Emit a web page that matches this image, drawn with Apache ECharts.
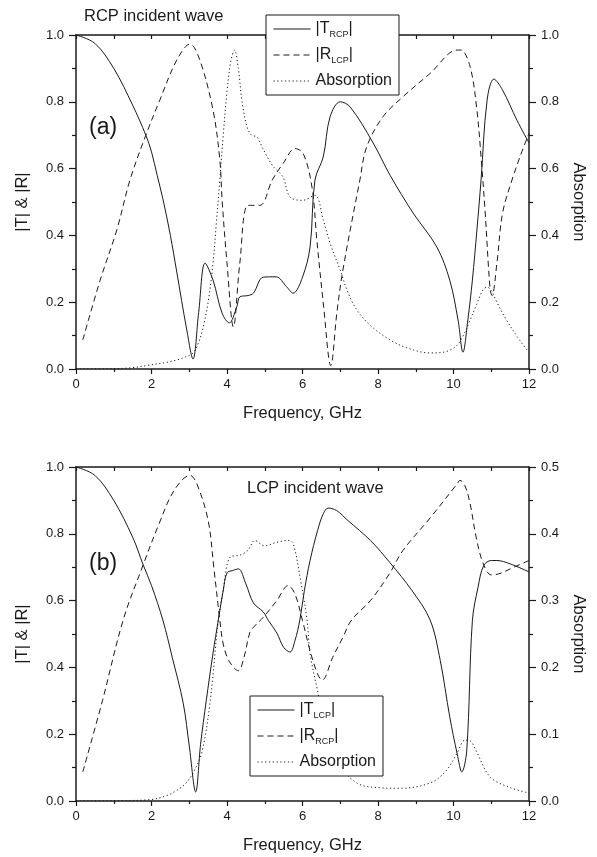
<!DOCTYPE html>
<html>
<head>
<meta charset="utf-8">
<script src="https://cdn.jsdelivr.net/npm/echarts@6/dist/echarts.min.js"></script>
<style>
html,body{margin:0;padding:0;background:#fff;}
#chart{width:597px;height:857px;}
</style>
</head>
<body>
<div id="chart"></div>
<script>
// ---------- DATA ----------
// Panel (a): RCP incident wave
var tRcpX = [0,0.5,1.0,1.5,1.85,2.0,2.15,2.3,2.5,2.67,2.93,3.1,3.25,3.42,3.63,3.87,4.06,4.26,4.34,4.56,4.7,4.96,5.3,5.58,5.75,6.0,6.2,6.33,6.55,6.73,7.0,7.26,7.87,8.32,8.93,9.56,9.9,10.12,10.25,10.38,10.5,10.62,10.73,10.89,11.07,11.3,11.68,12];
var tRcpY = [1.0,0.975,0.90,0.79,0.70,0.65,0.58,0.51,0.40,0.29,0.12,0.03,0.17,0.317,0.266,0.167,0.138,0.186,0.216,0.22,0.227,0.275,0.276,0.246,0.227,0.275,0.365,0.566,0.635,0.755,0.80,0.785,0.677,0.58,0.467,0.365,0.266,0.147,0.05,0.147,0.266,0.416,0.566,0.805,0.868,0.835,0.745,0.677];

var rLcpX = [0.18,0.64,1.08,1.43,1.85,2.22,2.67,3.02,3.28,3.63,3.81,3.87,4.0,4.17,4.34,4.56,4.87,5.2,5.49,5.8,6.02,6.25,6.38,6.55,6.75,6.91,7.07,7.52,7.7,8.13,8.66,9.38,10.1,10.2,10.44,10.62,10.75,10.84,10.97,11.02,11.15,11.3,11.55,11.76,12];
var rLcpY = [0.087,0.266,0.416,0.566,0.70,0.805,0.925,0.973,0.925,0.775,0.626,0.506,0.317,0.126,0.317,0.49,0.49,0.566,0.616,0.66,0.645,0.545,0.386,0.198,0.01,0.168,0.296,0.566,0.665,0.755,0.815,0.885,0.955,0.955,0.905,0.775,0.605,0.467,0.237,0.22,0.317,0.467,0.566,0.635,0.706];

var absAX = [0,1.0,1.5,1.96,2.4,2.67,2.9,3.1,3.25,3.37,3.5,3.63,3.72,3.81,3.9,4.0,4.1,4.2,4.3,4.4,4.53,4.65,4.79,4.95,5.2,5.48,5.67,6.0,6.33,6.55,6.75,7.0,7.2,7.44,7.8,8.32,8.8,9.38,9.8,10.1,10.3,10.44,10.6,10.78,10.89,11.0,11.15,11.4,11.7,11.95,12];
var absAY = [0,0.001,0.004,0.012,0.02,0.027,0.036,0.048,0.08,0.126,0.2,0.317,0.44,0.566,0.70,0.83,0.92,0.955,0.90,0.80,0.725,0.70,0.695,0.66,0.61,0.575,0.515,0.505,0.52,0.446,0.37,0.296,0.23,0.177,0.13,0.087,0.062,0.048,0.052,0.072,0.11,0.147,0.19,0.237,0.245,0.235,0.20,0.147,0.095,0.057,0.055];

// Panel (b): LCP incident wave
var tLcpX = [0,0.5,1.0,1.5,1.78,2.0,2.3,2.55,2.84,3.0,3.17,3.3,3.45,3.63,3.77,3.9,4.0,4.15,4.3,4.5,4.7,4.96,5.1,5.32,5.5,5.67,5.8,5.93,6.05,6.2,6.4,6.55,6.68,6.9,7.2,7.8,8.32,8.9,9.38,9.65,9.9,10.1,10.22,10.35,10.5,10.65,10.8,11.0,11.15,11.5,12];
var tLcpY = [1.0,0.975,0.90,0.79,0.707,0.645,0.542,0.43,0.293,0.165,0.027,0.17,0.30,0.443,0.542,0.63,0.683,0.69,0.695,0.65,0.593,0.566,0.54,0.503,0.46,0.446,0.48,0.542,0.63,0.72,0.81,0.86,0.877,0.87,0.84,0.78,0.713,0.63,0.542,0.42,0.252,0.14,0.087,0.15,0.54,0.64,0.705,0.72,0.72,0.71,0.686];

var rRcpX = [0.18,0.7,1.25,1.78,2.2,2.6,3.02,3.2,3.5,3.65,3.81,3.9,4.05,4.3,4.45,4.6,4.7,4.96,5.32,5.62,5.8,6.0,6.2,6.4,6.52,6.8,7.07,7.3,7.8,8.3,8.66,9.4,10.1,10.17,10.3,10.44,10.6,10.78,11.0,11.2,11.6,12];
var rRcpY = [0.087,0.30,0.542,0.707,0.83,0.93,0.975,0.95,0.84,0.70,0.542,0.47,0.42,0.39,0.43,0.503,0.52,0.55,0.60,0.645,0.62,0.54,0.45,0.38,0.362,0.43,0.49,0.542,0.60,0.68,0.75,0.85,0.95,0.96,0.945,0.89,0.79,0.713,0.677,0.68,0.70,0.72];

var absBX = [0,1.0,1.96,2.4,2.67,2.9,3.1,3.33,3.55,3.77,3.9,4.08,4.34,4.55,4.74,5.0,5.3,5.62,5.75,5.95,6.12,6.2,6.41,6.6,6.9,7.44,8.0,8.58,9.38,9.8,10.1,10.3,10.44,10.6,10.97,11.5,12];
var absBY = [0,0.0005,0.002,0.008,0.016,0.026,0.042,0.072,0.147,0.271,0.316,0.365,0.368,0.375,0.39,0.382,0.387,0.39,0.386,0.33,0.271,0.221,0.162,0.11,0.06,0.027,0.02,0.019,0.027,0.045,0.072,0.091,0.09,0.075,0.036,0.02,0.012];

var xTicks = {min:0, max:12, interval:2};
var leftTicks = {min:0, max:1, interval:0.2};
var rightTicksA = {min:0, max:1, interval:0.2};
var rightTicksB = {min:0, max:0.5, interval:0.1};

// ---------- CHART ----------
function zip(xs, ys){ return xs.map(function(x,i){ return [x, ys[i]]; }); }
var FONT = "'Liberation Sans', Arial, Helvetica, sans-serif";
var INK = '#1a1a1a';

var chart = echarts.init(document.getElementById('chart'), null, {renderer:'canvas'});

function xAxisBottom(gi){
  return {
    type:'value', gridIndex:gi, position:'bottom', min:xTicks.min, max:xTicks.max, interval:xTicks.interval,
    name:'Frequency, GHz', nameLocation:'middle', nameGap:36,
    nameTextStyle:{fontFamily:FONT, fontSize:16.5, color:INK},
    axisLine:{show:true, onZero:false, lineStyle:{color:INK, width:1.5}},
    axisTick:{show:true, inside:false, length:5, lineStyle:{color:INK, width:1.2}},
    minorTick:{show:true, splitNumber:2, length:3, lineStyle:{color:INK, width:1.2}},
    axisLabel:{fontFamily:FONT, fontSize:13, color:INK, margin:9},
    splitLine:{show:false}
  };
}
function xAxisTop(gi){
  return {
    type:'value', gridIndex:gi, position:'top', min:xTicks.min, max:xTicks.max, interval:xTicks.interval,
    axisLine:{show:true, onZero:false, lineStyle:{color:INK, width:1.5}},
    axisTick:{show:true, inside:true, length:4, lineStyle:{color:INK, width:1.2}},
    minorTick:{show:true, splitNumber:2, length:4, lineStyle:{color:INK, width:1.2}},
    axisLabel:{show:false}, splitLine:{show:false}
  };
}
function yAxis(gi, pos, t, name, gap, rot, dec){
  return {
    type:'value', gridIndex:gi, position:pos, min:t.min, max:t.max, interval:t.interval,
    name:name, nameLocation:'middle', nameGap:gap, nameRotate:rot,
    nameTextStyle:{fontFamily:FONT, fontSize:16.5, color:INK},
    axisLine:{show:true, onZero:false, lineStyle:{color:INK, width:1.5}},
    axisTick:{show:true, inside:false, length:7, lineStyle:{color:INK, width:1.2}},
    minorTick:{show:true, splitNumber:2, length:4, lineStyle:{color:INK, width:1.2}},
    axisLabel:{fontFamily:FONT, fontSize:13, color:INK, margin:12,
      formatter:function(v){ return v.toFixed(dec); }},
    splitLine:{show:false}
  };
}
function lineSeries(name, xi, yi, data, type){
  return {
    name:name, type:'line', xAxisIndex:xi, yAxisIndex:yi, data:data,
    showSymbol:false, symbol:'none', smooth:0.35,
    lineStyle:{color:INK, width:1, type:type},
    itemStyle:{color:INK}, emphasis:{disabled:true}
  };
}
var DASH = [6,4];
var DOT = [1.2,2.6];
var labelMap = {
  'T_RCP':'{n||T}{s|RCP}{n||}',
  'R_LCP':'{n||R}{s|LCP}{n||}',
  'Absorption a':'{n|Absorption}',
  'T_LCP':'{n||T}{s|LCP}{n||}',
  'R_RCP':'{n||R}{s|RCP}{n||}',
  'Absorption b':'{n|Absorption}'
};
function legend(names, left, top){
  return {
    data:names, orient:'vertical', left:left, top:top,
    padding:[6,7,6,7], itemGap:8, itemWidth:37, itemHeight:14,
    borderColor:INK, borderWidth:1, backgroundColor:'#fff',
    selectedMode:false,
    itemStyle:{opacity:0, borderWidth:0},
    lineStyle:{width:1, color:INK},
    formatter:function(n){ return labelMap[n]; },
    textStyle:{fontFamily:FONT, fontSize:16, color:INK,
      rich:{
        n:{fontFamily:FONT, fontSize:16, color:INK, lineHeight:20, verticalAlign:'middle'},
        s:{fontFamily:FONT, fontSize:9, color:INK, lineHeight:10, verticalAlign:'bottom'}
      }}
  };
}

var option = {
  animation:false,
  backgroundColor:'#fff',
  title:[
    {text:'RCP incident wave', left:84, top:8, padding:0, textStyle:{fontFamily:FONT, fontSize:16.5, fontWeight:'normal', color:INK}},
    {text:'(a)', left:89, top:116, padding:0, textStyle:{fontFamily:FONT, fontSize:23, fontWeight:'normal', color:INK}},
    {text:'LCP incident wave', left:247, top:480, padding:0, textStyle:{fontFamily:FONT, fontSize:16.5, fontWeight:'normal', color:INK}},
    {text:'(b)', left:89, top:552, padding:0, textStyle:{fontFamily:FONT, fontSize:23, fontWeight:'normal', color:INK}}
  ],
  grid:[
    {left:76, top:35, width:453, height:334, containLabel:false},
    {left:76, top:467, width:453, height:334, containLabel:false}
  ],
  xAxis:[ xAxisBottom(0), xAxisTop(0), xAxisBottom(1), xAxisTop(1) ],
  yAxis:[
    yAxis(0,'left',leftTicks,'|T| & |R|',45,90,1),
    yAxis(0,'right',rightTicksA,'Absorption',26,-90,1),
    yAxis(1,'left',leftTicks,'|T| & |R|',45,90,1),
    yAxis(1,'right',rightTicksB,'Absorption',26,-90,1)
  ],
  legend:[
    legend(['T_RCP','R_LCP','Absorption a'], 266, 15),
    legend(['T_LCP','R_RCP','Absorption b'], 250, 696)
  ],
  series:[
    lineSeries('T_RCP',0,0,zip(tRcpX,tRcpY),'solid'),
    lineSeries('R_LCP',0,0,zip(rLcpX,rLcpY),DASH),
    lineSeries('Absorption a',0,1,zip(absAX,absAY),DOT),
    lineSeries('T_LCP',2,2,zip(tLcpX,tLcpY),'solid'),
    lineSeries('R_RCP',2,2,zip(rRcpX,rRcpY),DASH),
    lineSeries('Absorption b',2,3,zip(absBX,absBY),DOT)
  ]
};
chart.setOption(option);
</script>
</body>
</html>
